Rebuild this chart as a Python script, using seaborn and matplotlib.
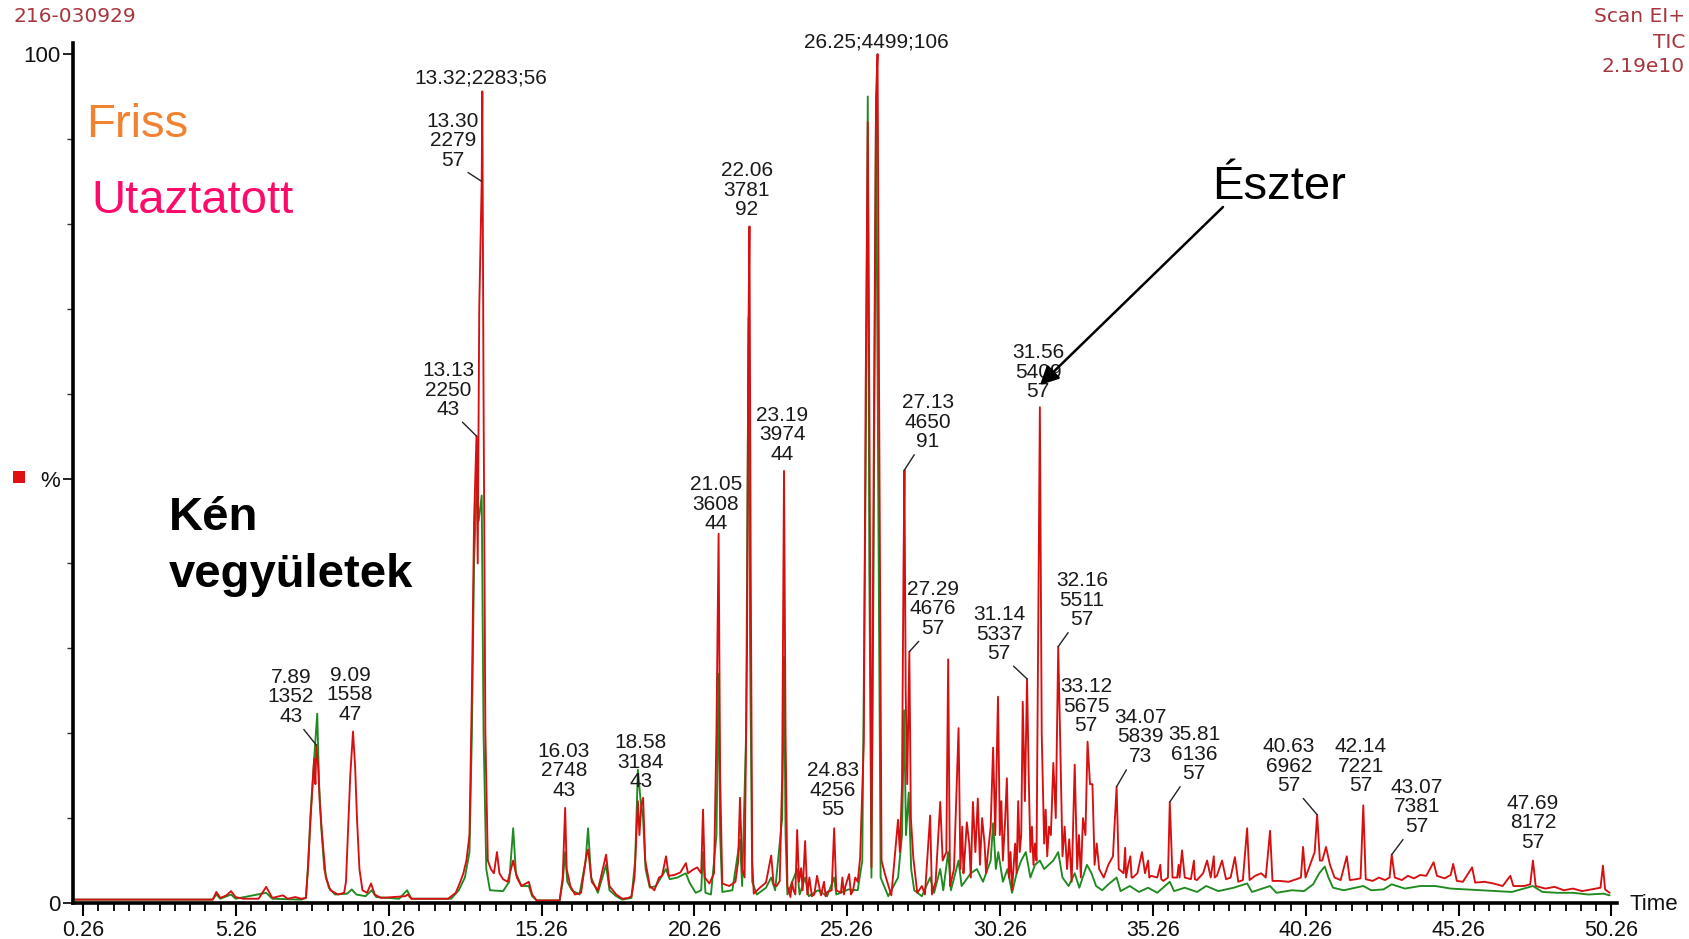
import numpy as np
import pandas as pd
import matplotlib
matplotlib.use("Agg")
import matplotlib.pyplot as plt
from matplotlib.ticker import FixedLocator
from matplotlib.patches import Rectangle
import seaborn as sns

# ---------------- data ----------------
utaztatott_time = [
    0.0, 4.5, 4.62, 4.75, 4.95, 5.1, 5.25, 5.5, 6.0, 6.25, 6.45, 6.8, 6.95, 7.2, 7.4, 7.55,
    7.62, 7.7, 7.76, 7.82, 7.86, 7.89, 7.95, 8.0, 8.08, 8.2, 8.35, 8.6, 8.8, 8.86, 8.92, 9.0,
    9.09, 9.16, 9.22, 9.3, 9.4, 9.55, 9.68, 9.8, 10.0, 10.8, 10.88, 11.0, 12.2, 12.45, 12.6,
    12.7, 12.8, 12.9, 12.98, 13.05, 13.13, 13.17, 13.22, 13.30, 13.32, 13.36, 13.42, 13.5,
    13.6, 13.7, 13.8, 13.88, 14.0, 14.15, 14.33, 14.45, 14.6, 14.84, 14.95, 15.1, 15.85,
    15.95, 16.03, 16.08, 16.2, 16.35, 16.55, 16.72, 16.78, 16.9, 17.1, 17.37, 17.48, 17.7,
    17.9, 18.1, 18.2, 18.3, 18.41, 18.46, 18.52, 18.58, 18.65, 18.8, 18.95, 19.1, 19.2,
    19.33, 19.42, 19.6, 19.8, 19.98, 20.05, 20.2, 20.35, 20.48, 20.54, 20.6, 20.75, 20.9,
    20.98, 21.05, 21.1, 21.17, 21.4, 21.6, 21.69, 21.75, 21.82, 21.9, 21.98, 22.02, 22.06,
    22.1, 22.15, 22.2, 22.4, 22.6, 22.77, 22.85, 22.95, 23.05, 23.13, 23.19, 23.24, 23.3,
    23.4, 23.5, 23.62, 23.68, 23.75, 23.8, 23.88, 23.95, 24.1, 24.27, 24.4, 24.6, 24.75,
    24.83, 24.9, 25.05, 25.2, 25.32, 25.45, 25.6, 25.68, 25.8, 25.86, 25.93, 25.98, 26.05,
    26.12, 26.2, 26.25, 26.3, 26.38, 26.5, 26.7, 26.92, 26.98, 27.05, 27.1, 27.13, 27.17,
    27.22, 27.29, 27.34, 27.42, 27.55, 27.7, 27.8, 27.97, 28.03, 28.15, 28.3, 28.38, 28.5,
    28.56, 28.62, 28.75, 28.9, 28.96, 29.1, 29.25, 29.37, 29.45, 29.53, 29.6, 29.75, 29.85,
    29.95, 30.03, 30.1, 30.19, 30.25, 30.35, 30.48, 30.55, 30.65, 30.75, 30.85, 30.95, 31.0,
    31.07, 31.14, 31.2, 31.3, 31.4, 31.5, 31.56, 31.62, 31.7, 31.8, 31.92, 32.0, 32.08,
    32.16, 32.22, 32.3, 32.45, 32.6, 32.7, 32.78, 32.9, 33.05, 33.12, 33.2, 33.28, 33.35,
    33.5, 33.65, 33.8, 33.95, 34.07, 34.14, 34.3, 34.45, 34.6, 34.75, 34.9, 35.0, 35.2,
    35.4, 35.6, 35.75, 35.81, 35.9, 36.05, 36.21, 36.3, 36.5, 36.7, 36.9, 37.03, 37.15,
    37.35, 37.52, 37.65, 37.8, 37.94, 38.05, 38.2, 38.34, 38.42, 38.6, 38.8, 38.95, 39.09,
    39.17, 39.4, 39.7, 39.95, 40.1, 40.17, 40.25, 40.4, 40.55, 40.63, 40.72, 40.8, 40.92,
    41.05, 41.2, 41.4, 41.6, 41.7, 41.9, 42.05, 42.14, 42.22, 42.45, 42.65, 42.85, 43.0,
    43.07, 43.17, 43.4, 43.6, 43.8, 44.0, 44.2, 44.44, 44.55, 44.8, 45.0, 45.08, 45.2,
    45.4, 45.7, 45.8, 46.1, 46.4, 46.7, 46.95, 47.05, 47.4, 47.6, 47.69, 47.78, 48.1, 48.4,
    48.7, 49.0, 49.3, 49.6, 49.9, 49.98, 50.05, 50.2]
utaztatott_pct = [
    0.4, 0.4, 1.3, 0.6, 0.9, 1.4, 0.7, 0.5, 0.5, 1.9, 0.6, 0.9, 0.5, 0.7, 0.5, 0.6,
    4.2, 9.8, 13.5, 17.0, 14.0, 18.6, 16.0, 12.0, 8.0, 3.0, 1.5, 1.0, 1.2, 2.5, 8.0, 15.0,
    20.2, 16.0, 10.0, 4.0, 1.5, 1.2, 2.3, 1.0, 0.6, 0.8, 1.0, 0.5, 0.5, 1.2, 2.5,
    3.5, 5.0, 8.0, 25.0, 45.0, 55.0, 40.0, 70.0, 85.0, 95.6, 60.0, 20.0, 5.0,
    4.0, 3.5, 6.0, 3.5, 2.8, 2.5, 5.0, 3.0, 2.0, 2.5, 1.0, 0.3, 0.3,
    3.0, 11.2, 4.0, 2.0, 1.0, 1.2, 5.5, 6.3, 2.5, 1.5, 5.7, 2.0, 1.0,
    0.5, 0.6, 0.8, 3.0, 12.0, 8.0, 11.5, 12.4, 5.0, 2.0, 1.5, 3.0, 3.2,
    5.5, 3.2, 3.3, 3.6, 4.7, 3.5, 3.9, 4.2, 3.5, 11.0, 3.0, 2.3, 3.5,
    20.0, 43.5, 15.0, 2.3, 2.0, 2.5, 4.9, 12.4, 4.0, 3.0, 30.0, 65.0, 79.7,
    40.0, 5.0, 1.1, 1.8, 2.4, 5.6, 2.2, 2.0, 2.6, 15.0, 50.9, 20.0, 2.0,
    0.7, 1.5, 8.6, 2.5, 4.1, 1.5, 7.3, 1.0, 0.8, 3.2, 0.9, 1.3, 1.5,
    8.8, 1.5, 1.2, 2.0, 3.4, 1.5, 2.5, 5.3, 19.0, 60.0, 92.0, 60.0, 4.2,
    50.0, 95.0, 100.0, 60.0, 5.0, 3.3, 0.9, 9.8, 6.0, 14.0, 40.0, 51.0, 25.0,
    14.0, 29.6, 10.0, 5.3, 1.2, 2.0, 1.0, 10.3, 1.0, 2.5, 11.9, 5.0, 6.0,
    28.7, 2.0, 4.0, 20.6, 4.0, 5.5, 7.0, 11.9, 6.0, 12.3, 4.5, 7.0, 5.5,
    9.0, 18.3, 8.0, 24.3, 8.0, 5.0, 14.7, 3.0, 1.5, 7.0, 12.0, 8.0, 23.7,
    12.0, 26.4, 14.0, 9.0, 7.0, 30.0, 58.4, 20.0, 7.0, 5.5, 8.0, 16.5, 10.0,
    30.2, 20.0, 5.5, 4.0, 2.5, 16.3, 4.0, 3.0, 8.0, 19.0, 14.0, 14.0, 4.5,
    4.0, 3.0, 4.5, 5.5, 13.7, 4.0, 3.5, 4.5, 3.0, 3.5, 6.0, 3.5, 3.2,
    3.0, 2.6, 3.0, 11.9, 3.0, 3.0, 6.2, 3.0, 2.8, 2.7, 3.5, 5.0, 3.0,
    3.2, 5.0, 2.8, 3.0, 5.4, 2.5, 2.7, 8.8, 2.7, 3.2, 3.5, 3.0, 8.5,
    2.6, 2.6, 2.5, 2.8, 3.0, 6.6, 3.0, 4.5, 6.0, 10.4, 5.0, 5.0, 6.6,
    4.5, 3.0, 2.7, 5.5, 2.7, 2.8, 2.9, 11.5, 2.8, 2.6, 3.0, 2.7, 3.0,
    5.7, 3.0, 2.7, 3.2, 2.9, 3.3, 3.2, 4.8, 3.2, 2.9, 3.3, 4.6, 2.6,
    2.5, 4.2, 2.4, 2.5, 2.3, 2.0, 3.2, 2.0, 2.0, 2.2, 5.0, 2.0, 1.7, 1.9,
    1.5, 1.7, 1.4, 1.6, 1.8, 4.4, 1.6, 1.2]

# denser reading of the crowded 28.9-33.5 min stretch (replaces the coarse one)
utaztatott_dense_time = [
    28.9, 28.96, 29.02, 29.06, 29.1, 29.17, 29.25, 29.3, 29.37, 29.45, 29.53, 29.6,
    29.67, 29.75, 29.8, 29.85, 29.95, 30.03, 30.1, 30.19, 30.25, 30.3, 30.35, 30.42,
    30.48, 30.55, 30.6, 30.65, 30.75, 30.8, 30.85, 30.9, 30.95, 31.0, 31.07, 31.14,
    31.2, 31.25, 31.3, 31.35, 31.4, 31.45, 31.5, 31.56, 31.62, 31.7, 31.75, 31.8,
    31.86, 31.92, 32.0, 32.08, 32.16, 32.22, 32.3, 32.37, 32.45, 32.52, 32.6, 32.7,
    32.78, 32.84, 32.9, 32.97, 33.05, 33.12, 33.2, 33.28, 33.35, 33.42, 33.5]
utaztatott_dense_pct = [
    20.6, 4.0, 9.0, 3.5, 5.5, 9.5, 7.0, 3.0, 11.9, 6.0, 12.3, 4.5,
    10.0, 7.0, 3.5, 5.5, 9.0, 18.3, 8.0, 24.3, 8.0, 12.0, 5.0, 9.5,
    14.7, 3.0, 6.0, 1.5, 7.0, 3.5, 12.0, 6.0, 8.0, 23.7, 12.0, 26.4,
    14.0, 6.0, 9.0, 4.5, 7.0, 5.0, 30.0, 58.4, 20.0, 7.0, 11.0, 5.5,
    9.0, 8.0, 16.5, 10.0, 30.2, 20.0, 5.5, 9.0, 4.0, 7.5, 2.5, 16.3,
    4.0, 8.0, 3.0, 10.0, 8.0, 19.0, 14.0, 14.0, 4.5, 7.0, 4.0]

# small extra spikes read in the 23-38 min noise
utaztatott_extra_time = [23.45, 23.56, 24.02, 24.18, 24.5, 24.55, 25.1, 25.15, 25.38,
                         25.52, 34.35, 34.38, 34.52, 34.56, 35.1, 35.14, 35.5, 35.53,
                         36.1, 36.13, 36.6, 36.63, 37.25, 37.28]
utaztatott_extra_pct = [2.5, 1.0, 3.0, 1.0, 2.5, 0.8, 3.0, 1.0, 1.0,
                        3.0, 6.5, 3.0, 5.5, 3.0, 5.0, 3.0, 4.5, 2.8,
                        4.5, 3.0, 5.0, 2.8, 5.5, 3.0]

friss_time = [
    0.0, 4.5, 4.62, 4.75, 5.1, 5.25, 6.25, 6.45, 7.4, 7.55, 7.62, 7.7, 7.8, 7.92, 7.98,
    8.05, 8.15, 8.3, 8.5, 8.9, 9.05, 9.2, 9.5, 9.7, 9.85, 10.6, 10.86, 11.0, 12.3, 12.55,
    12.75, 12.9, 12.98, 13.05, 13.13, 13.2, 13.3, 13.36, 13.45, 13.57, 14.0, 14.2, 14.33,
    14.42, 14.6, 14.84, 14.95, 15.1, 15.85, 15.95, 16.03, 16.1, 16.25, 16.5, 16.7, 16.78,
    16.88, 17.1, 17.37, 17.48, 17.7, 17.9, 18.2, 18.32, 18.41, 18.5, 18.58, 18.66, 18.8,
    19.0, 19.33, 19.45, 19.7, 19.98, 20.1, 20.3, 20.48, 20.54, 20.62, 20.8, 20.98, 21.05,
    21.1, 21.17, 21.5, 21.75, 21.82, 21.95, 22.03, 22.08, 22.15, 22.3, 22.6, 22.77, 22.9,
    23.13, 23.19, 23.24, 23.3, 23.62, 23.7, 23.88, 24.0, 24.3, 24.6, 24.83, 24.9, 25.3,
    25.6, 25.75, 25.86, 25.93, 25.98, 26.05, 26.12, 26.2, 26.27, 26.35, 26.6, 26.92, 27.05,
    27.12, 27.18, 27.27, 27.35, 27.45, 27.7, 27.97, 28.1, 28.3, 28.4, 28.56, 28.65, 28.9,
    29.0, 29.3, 29.5, 29.7, 29.95, 30.03, 30.12, 30.2, 30.35, 30.5, 30.65, 30.8, 30.95,
    31.1, 31.25, 31.4, 31.56, 31.7, 31.85, 32.0, 32.16, 32.3, 32.5, 32.7, 32.85, 33.1,
    33.25, 33.4, 33.6, 33.8, 34.07, 34.2, 34.5, 34.8, 35.1, 35.4, 35.81, 35.95, 36.3,
    36.7, 37.0, 37.4, 37.9, 38.34, 38.5, 39.09, 39.3, 39.8, 40.2, 40.5, 40.7, 40.88, 41.0,
    41.15, 41.5, 42.14, 42.4, 42.8, 43.07, 43.5, 44.0, 44.5, 45.0, 45.5, 46.0, 46.5, 47.0,
    47.69, 48.0, 48.5, 49.0, 49.5, 50.0, 50.2]
friss_pct = [
    0.4, 0.4, 1.0, 0.5, 1.0, 0.5, 1.2, 0.5, 0.4, 0.6, 4.5, 10.5, 16.0, 22.3, 14.0,
    9.0, 4.0, 1.8, 1.0, 1.1, 1.6, 1.0, 0.8, 1.5, 0.7, 0.5, 1.5, 0.5, 0.5, 1.5,
    3.0, 6.0, 20.0, 40.0, 49.0, 45.0, 48.0, 20.0, 4.0, 1.5, 1.4, 2.5, 8.8,
    3.5, 2.0, 2.0, 0.8, 0.3, 0.3, 2.5, 6.0, 2.5, 1.5, 1.0, 5.0, 8.8,
    3.0, 1.2, 4.5, 1.5, 0.8, 0.4, 0.6, 5.0, 15.7, 12.0, 10.0, 4.0, 1.8,
    2.0, 4.0, 2.8, 3.0, 3.5, 2.4, 1.2, 1.5, 6.0, 1.2, 1.0, 8.0, 27.0,
    8.0, 1.3, 1.5, 7.5, 2.0, 20.0, 69.0, 30.0, 2.5, 1.0, 1.8, 3.0, 1.5,
    10.0, 29.0, 8.0, 1.0, 4.0, 1.0, 3.0, 0.8, 1.5, 0.8, 3.0, 1.0, 1.6,
    1.5, 5.0, 50.0, 95.0, 40.0, 3.0, 40.0, 94.0, 50.0, 3.0, 0.8, 3.0, 8.0,
    22.7, 8.0, 13.0, 4.0, 1.5, 0.8, 3.0, 1.2, 4.0, 1.5, 6.0, 1.5, 5.0,
    2.0, 3.5, 4.0, 2.5, 5.0, 9.4, 4.0, 6.0, 2.5, 4.0, 1.2, 3.5, 5.0,
    6.0, 3.0, 4.5, 5.0, 4.0, 4.5, 5.0, 6.0, 3.0, 2.0, 3.5, 1.8, 4.5,
    3.5, 2.0, 1.5, 2.2, 3.0, 1.4, 2.0, 1.3, 1.8, 1.2, 2.5, 1.4, 1.8,
    1.3, 2.0, 1.4, 1.8, 2.3, 1.3, 2.0, 1.2, 1.5, 1.4, 2.2, 3.5, 4.3, 3.0,
    1.8, 1.5, 2.0, 1.5, 1.6, 2.2, 1.7, 2.0, 2.0, 1.7, 1.6, 1.5, 1.4, 1.3,
    2.0, 1.3, 1.2, 1.2, 1.0, 1.1, 0.9]

sample_names = ["Friss", "Utaztatott"]
trace_colors = ["#1f8a1f", "#d61010"]

x_tick_values = [0.26, 5.26, 10.26, 15.26, 20.26, 25.26, 30.26, 35.26, 40.26, 45.26, 50.26]
x_tick_labels = ["0.26", "5.26", "10.26", "15.26", "20.26", "25.26", "30.26",
                 "35.26", "40.26", "45.26", "50.26"]
y_tick_values = [0, 50, 100]
y_tick_labels = ["0", "%", "100"]

peak_times = [13.32, 13.30, 13.13, 7.89, 9.09, 16.03, 18.58, 21.05, 22.06, 23.19,
              26.25, 27.13, 27.29, 24.83, 31.14, 31.56, 32.16, 33.12, 34.07, 35.81,
              40.63, 42.14, 43.07, 47.69]
peak_labels = ["13.32;2283;56", "13.30\n2279\n57", "13.13\n2250\n43", "7.89\n1352\n43",
               "9.09\n1558\n47", "16.03\n2748\n43", "18.58\n3184\n43", "21.05\n3608\n44",
               "22.06\n3781\n92", "23.19\n3974\n44", "26.25;4499;106", "27.13\n4650\n91",
               "27.29\n4676\n57", "24.83\n4256\n55", "31.14\n5337\n57", "31.56\n5409\n57",
               "32.16\n5511\n57", "33.12\n5675\n57", "34.07\n5839\n73", "35.81\n6136\n57",
               "40.63\n6962\n57", "42.14\n7221\n57", "43.07\n7381\n57", "47.69\n8172\n57"]

# ---------------- assemble traces ----------------
ut_t = np.array(utaztatott_time)
ut_p = np.array(utaztatott_pct)
keep = (ut_t < 28.88) | (ut_t > 33.52)
ut_t = np.concatenate([ut_t[keep], utaztatott_dense_time, utaztatott_extra_time])
ut_p = np.concatenate([ut_p[keep], utaztatott_dense_pct, utaztatott_extra_pct])
order = np.argsort(ut_t, kind="stable")
ut_t, ut_p = ut_t[order], ut_p[order]

# ---------------- layout ----------------
W, H = 1690, 939
LEFT_LEAD, RIGHT_LEAD = (0.28, 0.0), (0.72, 0.0)
# label centres in image pixels (top-origin) and leader start (None = no leader)
label_layout = [
    (481, 78, None), (453, 141, RIGHT_LEAD), (448, 390, RIGHT_LEAD), (291, 697, RIGHT_LEAD),
    (350, 695, None), (564, 771, None), (641, 762, None), (716, 504, None),
    (747, 190, None), (782, 435, None), (876, 42, None), (928, 422, LEFT_LEAD),
    (933, 609, LEFT_LEAD), (833, 790, None), (999, 634, RIGHT_LEAD), (1038, 372, None),
    (1082, 600, LEFT_LEAD), (1086, 706, None), (1140, 737, LEFT_LEAD), (1194, 754, LEFT_LEAD),
    (1289, 766, RIGHT_LEAD), (1361, 766, None), (1417, 807, LEFT_LEAD), (1533, 823, None)]

sns.set_theme(style="white")
plt.rcParams["font.family"] = ["Liberation Sans", "DejaVu Sans"]

fig = plt.figure(figsize=(W / 100, H / 100), dpi=100)
fig.patch.set_facecolor("white")
ax = fig.add_axes([73 / W, 36 / H, (1617 - 73) / W, (903 - 43) / H])

df = pd.concat([
    pd.DataFrame({"Time": friss_time, "Pct": friss_pct, "Sample": sample_names[0]}),
    pd.DataFrame({"Time": ut_t, "Pct": ut_p, "Sample": sample_names[1]}),
], ignore_index=True)

sns.lineplot(data=df, x="Time", y="Pct", hue="Sample", hue_order=sample_names,
             palette=trace_colors, estimator=None, sort=False, lw=1.35,
             legend=False, ax=ax)

ax.set_xlim(-0.07, 50.44)
ax.set_ylim(0, 101.3)
ax.set_xlabel("")
ax.set_ylabel("")
for side in ["top", "right"]:
    ax.spines[side].set_visible(False)
for side in ["left", "bottom"]:
    ax.spines[side].set_visible(True)
    ax.spines[side].set_color("black")
    ax.spines[side].set_linewidth(2.6)

ax.set_xticks(x_tick_values)
ax.set_xticklabels(x_tick_labels, fontsize=15.5, color="#111111")
ax.xaxis.set_minor_locator(FixedLocator(np.arange(0.26, 50.3, 0.5)))
ax.tick_params(axis="x", which="major", direction="out", length=9, width=1.5,
               color="black", pad=3, bottom=True)
ax.tick_params(axis="x", which="minor", direction="out", length=6, width=1.3,
               color="black", bottom=True)
ax.set_yticks(y_tick_values)
ax.set_yticklabels(y_tick_labels, fontsize=16, color="#111111")
ax.yaxis.set_minor_locator(FixedLocator(np.arange(10, 100, 10)))
ax.tick_params(axis="y", which="major", direction="out", length=7, width=1.2,
               color="black", pad=2, left=True)
ax.tick_params(axis="y", which="minor", direction="out", length=4, width=1.0,
               color="#333333", left=True)
ax.grid(False)

# red marker beside the % label
fig.patches.append(Rectangle((13, H - 483), 12, 12, transform=None,
                             facecolor="#e01010", edgecolor="none"))

# "Time" axis caption
fig.text(1630 / W, 1 - 905 / H, "Time", fontsize=16, ha="left", va="center",
         color="#111111")

# peak annotations
for t, lab, (cx, cy, corner) in zip(peak_times, peak_labels, label_layout):
    h = ut_p[np.argmin(np.abs(ut_t - t))]
    kw = {}
    if corner is not None:
        kw["arrowprops"] = dict(arrowstyle="-", lw=1.0, color="#222222",
                                relpos=corner, patchA=None, shrinkA=3, shrinkB=0)
    ax.annotate(lab, xy=(t, h), xycoords="data", xytext=(cx, H - cy),
                textcoords="figure pixels", ha="center", va="center",
                multialignment="center", fontsize=15, color="#1a1a1a",
                linespacing=1.05, **kw)

# header texts
hdr_color = "#a8353c"
fig.text(14 / W, 1 - 17 / H, "216-030929", fontsize=14.5, color=hdr_color,
         ha="left", va="center", family="DejaVu Sans")
fig.text(1685 / W, 1 - 17 / H, "Scan EI+", fontsize=14.5, color=hdr_color,
         ha="right", va="center", family="DejaVu Sans")
fig.text(1685 / W, 1 - 42 / H, "TIC", fontsize=14.5, color=hdr_color,
         ha="right", va="center", family="DejaVu Sans")
fig.text(1685 / W, 1 - 66 / H, "2.19e10", fontsize=14.5, color=hdr_color,
         ha="right", va="center", family="DejaVu Sans")

# big annotations
fig.text(86 / W, 1 - 125 / H, "Friss", fontsize=34, color="#f08232",
         ha="left", va="center")
fig.text(91 / W, 1 - 201 / H, "Utaztatott", fontsize=34, color="#ff0a6a",
         ha="left", va="center")
fig.text(169 / W, 1 - 518 / H, "Kén", fontsize=34, color="black",
         fontweight="bold", ha="left", va="center")
fig.text(169 / W, 1 - 575 / H, "vegyületek", fontsize=34, color="black",
         fontweight="bold", ha="left", va="center")
fig.text(1212 / W, 1 - 187 / H, "Észter", fontsize=34, color="black",
         ha="left", va="center")
ax.annotate("", xy=(1040, H - 385), xycoords="figure pixels",
            xytext=(1223, H - 207), textcoords="figure pixels",
            arrowprops=dict(arrowstyle="-|>", lw=1.8, color="black",
                            mutation_scale=28, shrinkA=0, shrinkB=0))

fig.savefig("out.png", dpi=100, facecolor="white")
